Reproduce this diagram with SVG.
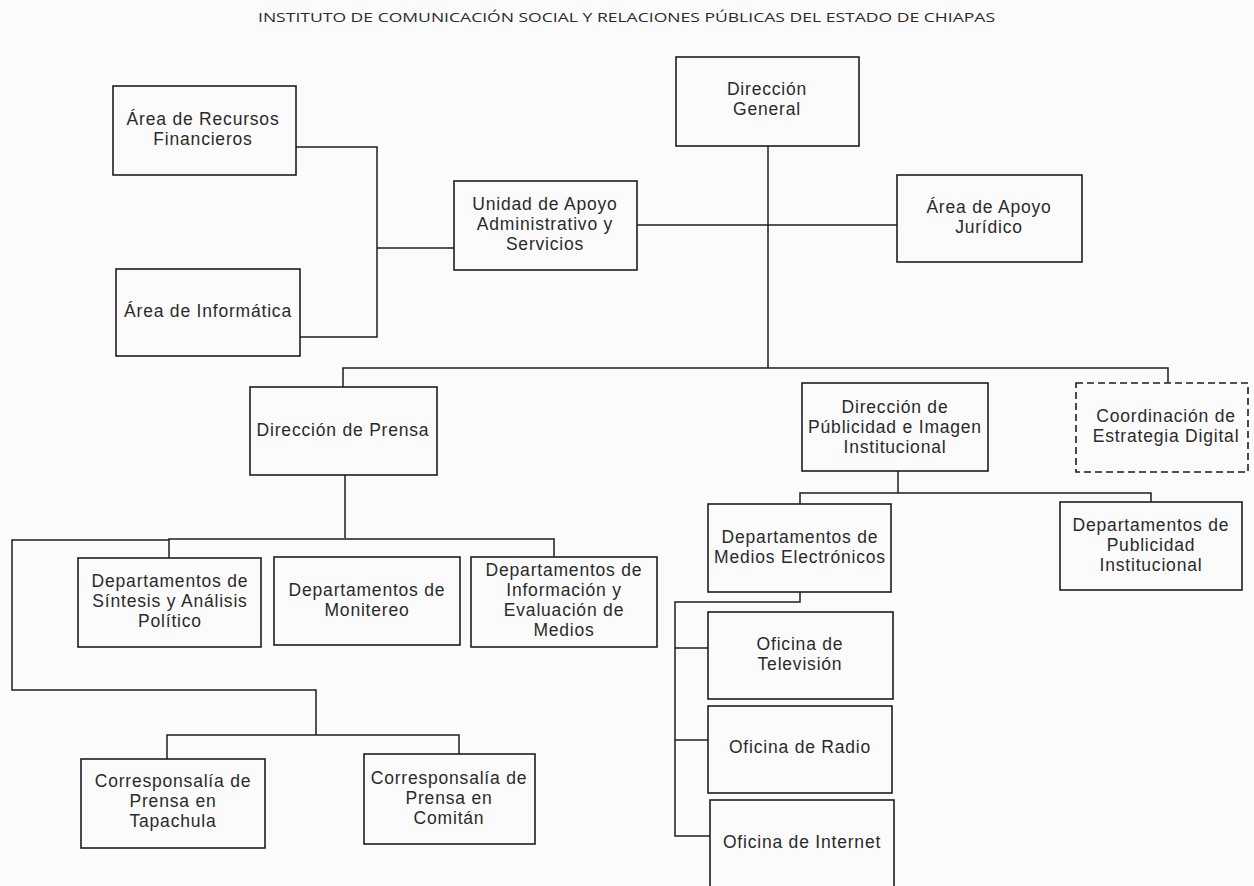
<svg xmlns="http://www.w3.org/2000/svg" width="1254" height="886" viewBox="0 0 1254 886">
<style>
.bg{fill:#fbfbfb}
.box{fill:none;stroke:#1e1e1e;stroke-width:1.6}
.dash{fill:none;stroke:#1e1e1e;stroke-width:1.6;stroke-dasharray:7 4}
.t{font-family:"Liberation Sans",Arial,sans-serif;font-size:17.5px;letter-spacing:0.8px;fill:#2a2a2a;text-anchor:middle}
.title{font-family:"Open Sans","Liberation Sans",sans-serif;font-size:13.5px;fill:#2a2a2a}
.c{fill:none;stroke:#1e1e1e;stroke-width:1.5}
</style>
<rect class="bg" x="0" y="0" width="1254" height="886"/>
<text class="title" x="258" y="22" textLength="737" lengthAdjust="spacingAndGlyphs">INSTITUTO DE COMUNICACIÓN SOCIAL Y RELACIONES PÚBLICAS DEL ESTADO DE CHIAPAS</text>

<g id="connectors">
<path class="c" d="M296,147 H377 V337 H300"/>
<path class="c" d="M377,248 H454"/>
<path class="c" d="M637,225 H897"/>
<path class="c" d="M768,146 V368"/>
<path class="c" d="M343,387 V368 H1168 V383"/>
<path class="c" d="M345,475 V538"/>
<path class="c" d="M169,558 V539 H554 V557"/>
<path class="c" d="M169,540 H12 V690 H316 V735"/>
<path class="c" d="M167,759 V735 H459 V754"/>
<path class="c" d="M898,471 V493"/>
<path class="c" d="M800,504 V493 H1151 V502"/>
<path class="c" d="M800,592 V602 H675 V836 H710"/>
<path class="c" d="M675,648 H708"/>
<path class="c" d="M675,740 H708"/>
</g>

<g id="n-recursos">
<rect class="box" x="113" y="86" width="183" height="89"/>
<text class="t" x="203" y="125">Área de Recursos</text>
<text class="t" x="203" y="145">Financieros</text>
</g>
<g id="n-informatica">
<rect class="box" x="116" y="269" width="184" height="87"/>
<text class="t" x="208" y="317">Área de Informática</text>
</g>
<g id="n-unidad">
<rect class="box" x="454" y="181" width="183" height="89"/>
<text class="t" x="545" y="210">Unidad de Apoyo</text>
<text class="t" x="545" y="230">Administrativo y</text>
<text class="t" x="545" y="250">Servicios</text>
</g>
<g id="n-dg">
<rect class="box" x="676" y="57" width="183" height="89"/>
<text class="t" x="767" y="95">Dirección</text>
<text class="t" x="767" y="115">General</text>
</g>
<g id="n-juridico">
<rect class="box" x="897" y="175" width="185" height="87"/>
<text class="t" x="989" y="213">Área de Apoyo</text>
<text class="t" x="989" y="233">Jurídico</text>
</g>
<g id="n-prensa">
<rect class="box" x="250" y="387" width="187" height="88"/>
<text class="t" x="343" y="436">Dirección de Prensa</text>
</g>
<g id="n-sintesis">
<rect class="box" x="78" y="558" width="183" height="89"/>
<text class="t" x="170" y="587">Departamentos de</text>
<text class="t" x="170" y="607">Síntesis y Análisis</text>
<text class="t" x="170" y="627">Político</text>
</g>
<g id="n-monitereo">
<rect class="box" x="274" y="557" width="186" height="88"/>
<text class="t" x="367" y="596">Departamentos de</text>
<text class="t" x="367" y="616">Monitereo</text>
</g>
<g id="n-informacion">
<rect class="box" x="471" y="557" width="186" height="90"/>
<text class="t" x="564" y="576">Departamentos de</text>
<text class="t" x="564" y="596">Información y</text>
<text class="t" x="564" y="616">Evaluación de</text>
<text class="t" x="564" y="636">Medios</text>
</g>
<g id="n-tapachula">
<rect class="box" x="81" y="759" width="184" height="89"/>
<text class="t" x="173" y="787">Corresponsalía de</text>
<text class="t" x="173" y="807">Prensa en</text>
<text class="t" x="173" y="827">Tapachula</text>
</g>
<g id="n-comitan">
<rect class="box" x="364" y="754" width="171" height="90"/>
<text class="t" x="449" y="784">Corresponsalía de</text>
<text class="t" x="449" y="804">Prensa en</text>
<text class="t" x="449" y="824">Comitán</text>
</g>
<g id="n-publicidad">
<rect class="box" x="802" y="383" width="186" height="88"/>
<text class="t" x="895" y="413">Dirección de</text>
<text class="t" x="895" y="433">Públicidad e Imagen</text>
<text class="t" x="895" y="453">Institucional</text>
</g>
<g id="n-coordinacion">
<rect class="dash" x="1076" y="383" width="172" height="89"/>
<text class="t" x="1166" y="422">Coordinación de</text>
<text class="t" x="1166" y="442">Estrategia Digital</text>
</g>
<g id="n-medios">
<rect class="box" x="708" y="504" width="183" height="88"/>
<text class="t" x="800" y="543">Departamentos de</text>
<text class="t" x="800" y="563">Medios Electrónicos</text>
</g>
<g id="n-pubinst">
<rect class="box" x="1060" y="502" width="182" height="88"/>
<text class="t" x="1151" y="531">Departamentos de</text>
<text class="t" x="1151" y="551">Publicidad</text>
<text class="t" x="1151" y="571">Institucional</text>
</g>
<g id="n-tv">
<rect class="box" x="708" y="612" width="185" height="87"/>
<text class="t" x="800" y="650">Oficina de</text>
<text class="t" x="800" y="670">Televisión</text>
</g>
<g id="n-radio">
<rect class="box" x="708" y="706" width="184" height="87"/>
<text class="t" x="800" y="753">Oficina de Radio</text>
</g>
<g id="n-internet">
<rect class="box" x="710" y="800" width="184" height="100"/>
<text class="t" x="802" y="848">Oficina de Internet</text>
</g>
</svg>
